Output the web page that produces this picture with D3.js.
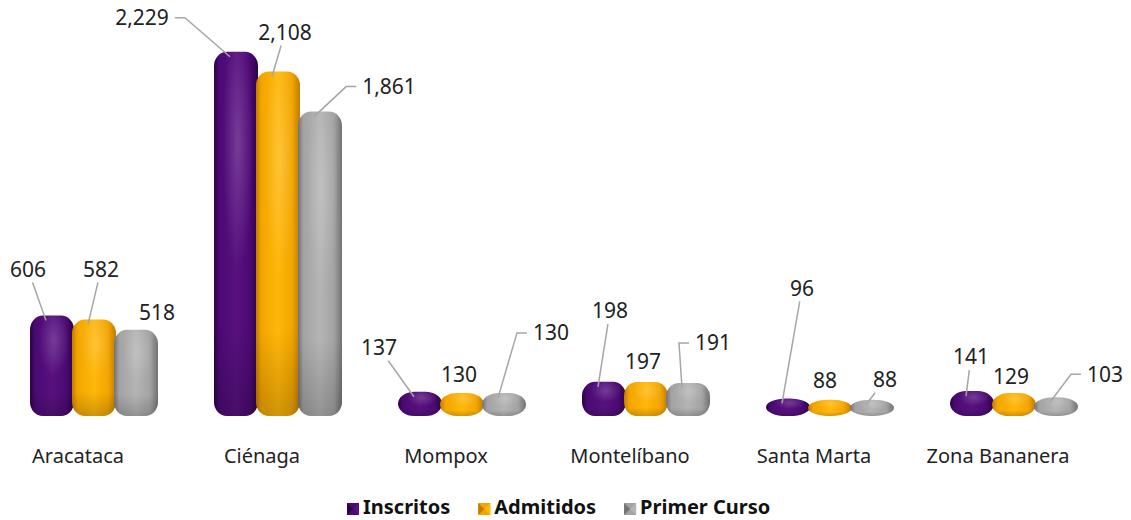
<!DOCTYPE html>
<html>
<head>
<meta charset="utf-8">
<script src="https://cdn.jsdelivr.net/npm/d3@7"></script>
<style>
  body { margin: 0; background: #fff; }
  svg { display: block; }
</style>
</head>
<body>
<div id="chart"></div>
<script>
// data
var categories = ["Aracataca", "Ciénaga", "Mompox", "Montelíbano", "Santa Marta", "Zona Bananera"];
var seriesNames = ["Inscritos", "Admitidos", "Primer Curso"];
var inscritos = [606, 2229, 137, 198, 96, 141];
var admitidos = [582, 2108, 130, 197, 88, 129];
var primerCurso = [518, 1861, 130, 191, 88, 103];

// label placement relative to the bar top: [dx, dy, leader] 0 none, 1 straight, 2 elbow
var labelLayout = [
    [[-24, -46, 1], [7, -50, 1], [21, -17, 0]],
    [[-94, -34, 2], [7, -39, 1], [69, -25, 2]],
    [[-41, -44, 1], [-3, -18, 0], [47, -60, 2]],
    [[6, -71, 1], [-3, -20, 0], [25, -40, 2]],
    [[14, -110, 1], [-5, -19, 0], [13, -20, 1]],
    [[-1, -34, 1], [-3, -16, 0], [49, -23, 2]]
];

var colours = [
    {base: "#4b0a73", light: "#58117f", dark: "#2c0344"},
    {base: "#f2a500", light: "#ffb70a", dark: "#c07c00"},
    {base: "#a3a3a3", light: "#b4b4b4", dark: "#727272"}
];

var W = 1131, H = 520;
var values = [inscritos, admitidos, primerCurso];

var svg = d3.select("#chart").append("svg")
    .attr("width", W).attr("height", H);

var defs = svg.append("defs");
colours.forEach(function (c, i) {
    var g = defs.append("linearGradient").attr("id", "grad" + i)
        .attr("x1", "0").attr("x2", "1").attr("y1", "0").attr("y2", "0");
    g.append("stop").attr("offset", "0%").attr("stop-color", c.dark);
    g.append("stop").attr("offset", "12%").attr("stop-color", c.base);
    g.append("stop").attr("offset", "50%").attr("stop-color", c.light);
    g.append("stop").attr("offset", "82%").attr("stop-color", c.base);
    g.append("stop").attr("offset", "100%").attr("stop-color", c.dark);
});
var hl = defs.append("radialGradient").attr("id", "hl")
    .attr("cx", "0.55").attr("cy", "0.25").attr("r", "0.35");
hl.append("stop").attr("offset", "0%").attr("stop-color", "#fff").attr("stop-opacity", 0.18);
hl.append("stop").attr("offset", "100%").attr("stop-color", "#fff").attr("stop-opacity", 0);
var shade = defs.append("linearGradient").attr("id", "shade")
    .attr("x1", "0").attr("x2", "0").attr("y1", "0").attr("y2", "1");
shade.append("stop").attr("offset", "75%").attr("stop-color", "#000").attr("stop-opacity", 0);
shade.append("stop").attr("offset", "100%").attr("stop-color", "#000").attr("stop-opacity", 0.18);

var x = d3.scaleBand().domain(categories).range([-14, 1090]);
var xs = d3.scaleBand().domain(seriesNames).range([-63, 63]);
var y = d3.scaleLinear().domain([0, 2400]).range([414, 24]);

var barW = 44, depthShift = 16;

function pill(cx, top, bottom) {
    var h = bottom - top, w = barW;
    var ry = Math.min(14, h / 2);
    var rx = Math.min(w / 2, 13 + Math.max(0, 30 - h) * 0.6);
    var l = cx - w / 2, r = cx + w / 2;
    return "M" + (l + rx) + "," + top +
        "L" + (r - rx) + "," + top +
        "A" + rx + "," + ry + " 0 0 1 " + r + "," + (top + ry) +
        "L" + r + "," + (bottom - ry) +
        "A" + rx + "," + ry + " 0 0 1 " + (r - rx) + "," + bottom +
        "L" + (l + rx) + "," + bottom +
        "A" + rx + "," + ry + " 0 0 1 " + l + "," + (bottom - ry) +
        "L" + l + "," + (top + ry) +
        "A" + rx + "," + ry + " 0 0 1 " + (l + rx) + "," + top + "Z";
}

var bars = [];
categories.forEach(function (cat, ci) {
    seriesNames.forEach(function (s, si) {
        var v = values[si][ci];
        var cx = x(cat) + x.bandwidth() / 2 + depthShift + xs(s) + xs.bandwidth() / 2;
        bars.push({ci: ci, si: si, v: v, cx: cx, top: y(v), bottom: y(0) + 2});
    });
});

var gBars = svg.append("g");
bars.forEach(function (b) {
    var d = pill(b.cx, b.top, b.bottom);
    gBars.append("path").attr("d", d).attr("fill", "url(#grad" + b.si + ")");
    gBars.append("path").attr("d", d).attr("fill", "url(#shade)");
    gBars.append("path").attr("d", d).attr("fill", "url(#hl)");
});

// value labels and leader lines
var gLab = svg.append("g");
bars.forEach(function (b) {
    var lay = labelLayout[b.ci][b.si];
    var lx = b.cx + lay[0], ly = b.top + lay[1];
    var t = gLab.append("text")
        .attr("x", lx).attr("y", ly).attr("dy", "0.35em")
        .attr("text-anchor", "middle")
        .style("font-family", "'Noto Sans', sans-serif")
        .style("font-size", "21px")
        .style("fill", "#222")
        .text(d3.format(",")(b.v));
    if (!lay[2]) return;
    var bb = t.node().getBBox();
    var px = b.cx - 6, py = b.top + 5;
    var pts;
    if (lay[2] === 2) {
        var dir = px > lx ? 1 : -1;
        var sx = dir > 0 ? bb.x + bb.width + 6 : bb.x - 6;
        pts = [[sx, ly], [sx + dir * 10, ly], [px, py]];
    } else {
        var hw = bb.width / 2 + 1, hh = bb.height / 2 - 1;
        var dx = px - lx, dy = py - ly;
        var k = Math.min(Math.abs(dx) > 0 ? hw / Math.abs(dx) : 1e9, Math.abs(dy) > 0 ? hh / Math.abs(dy) : 1e9);
        pts = [[lx + dx * k, ly + dy * k], [px, py]];
    }
    gLab.append("path").attr("d", d3.line()(pts))
        .attr("fill", "none").attr("stroke", "#a6a6a6").attr("stroke-width", 1.5);
});

// category labels
svg.append("g").selectAll("text").data(categories).enter().append("text")
    .attr("x", function (d) { return x(d) + x.bandwidth() / 2; })
    .attr("y", 463)
    .attr("text-anchor", "middle")
    .style("font-family", "'Noto Sans', sans-serif")
    .style("font-size", "20px")
    .style("fill", "#222")
    .text(function (d) { return d; });

// legend
var leg = svg.append("g");
var lxPos = 347;
seriesNames.forEach(function (s, i) {
    var c = colours[i];
    leg.append("rect").attr("x", lxPos).attr("y", 503).attr("width", 12).attr("height", 12)
        .attr("fill", c.base);
    leg.append("path").attr("d", "M" + lxPos + ",503 L" + (lxPos + 6) + ",509 L" + lxPos + ",515Z")
        .attr("fill", c.dark);
    leg.append("path").attr("d", "M" + (lxPos + 12) + ",503 L" + (lxPos + 6) + ",509 L" + (lxPos + 12) + ",515Z")
        .attr("fill", c.light);
    var t = leg.append("text").attr("x", lxPos + 16).attr("y", 514)
        .style("font-family", "'Noto Sans', sans-serif")
        .style("font-weight", "bold")
        .style("font-size", "20px")
        .style("fill", "#111")
        .text(s);
    lxPos += 16 + t.node().getComputedTextLength() + 28;
});
</script>
</body>
</html>
